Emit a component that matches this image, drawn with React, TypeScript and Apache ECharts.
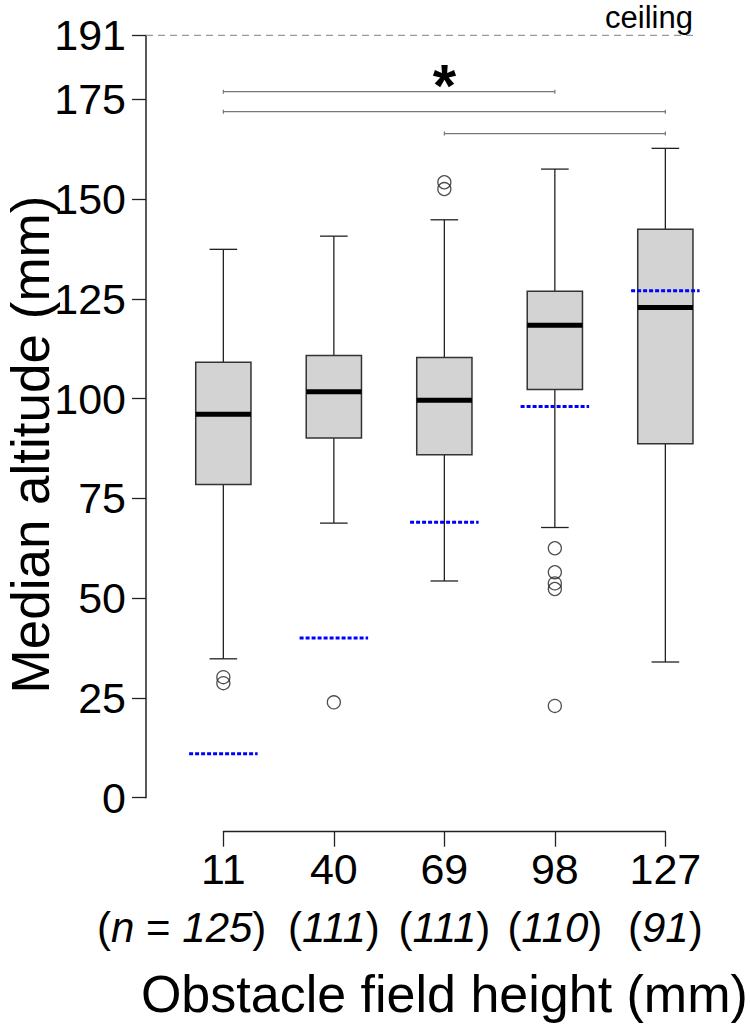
import React, { useEffect, useRef } from "react";
import * as echarts from "echarts";

// ---- data ----
const categories = ["11", "40", "69", "98", "127"];
const sampleSizes = ["125", "111", "111", "110", "91"];
const obstacleHeights = [11, 40, 69, 98, 127];
const whiskerLow = [34.8, 68.8, 54.3, 67.7, 34.0];
const quartile1 = [78.5, 90.1, 85.9, 102.3, 88.7];
const medians = [96.1, 101.7, 99.6, 118.4, 122.8];
const quartile3 = [109.1, 110.8, 110.3, 126.9, 142.4];
const whiskerHigh = [137.4, 140.7, 144.8, 157.5, 162.7];
const outliers: [number, number][] = [
  [0, 30.2], [0, 28.7],
  [1, 23.9],
  [2, 154.2], [2, 152.5],
  [3, 62.5], [3, 56.5], [3, 53.7], [3, 52.3], [3, 23.0],
];
const yTicks = [0, 25, 50, 75, 100, 125, 150, 175, 191];
const ceilingValue = 191;
const ceilingLabel = "ceiling";
const comparisons: [number, number, number][] = [
  [0, 3, 176.9],
  [0, 4, 171.9],
  [2, 4, 166.4],
];
const significanceMark: [number, number, string] = [2, 178.4, "*"];
const yTitle = "Median altitude (mm)";
const xTitle = "Obstacle field height (mm)";

const FONT = "'Liberation Sans', Arial, Helvetica, sans-serif";
const X_MIN = -0.7;
const X_MAX = 4.5;
const CEILING_END = 4.25;

export default function App() {
  const ref = useRef<HTMLDivElement>(null);

  useEffect(() => {
    if (!ref.current) return;
    const chart = echarts.init(ref.current, undefined, { renderer: "svg" });

    const boxData = categories.map((_, i) => [
      i,
      whiskerLow[i],
      quartile1[i],
      medians[i],
      quartile3[i],
      whiskerHigh[i],
    ]);
    const heightData = obstacleHeights.map((h, i) => [i, h]);
    const sizeData = sampleSizes.map((_, i) => [i, 0]);

    const richSmall = {
      p: { fontSize: 42, color: "#000", fontFamily: FONT },
      i: { fontSize: 42, color: "#000", fontStyle: "italic", fontFamily: FONT },
    };

    const option: any = {
      animation: false,
      backgroundColor: "#ffffff",
      textStyle: { fontFamily: FONT },
      grid: [
        { left: 146, top: 35.4, width: 574.6, height: 762.3, containLabel: false, outerBoundsMode: "none" },
        { left: 223.35, top: 830.7, width: 442, height: 1, containLabel: false, outerBoundsMode: "none" },
      ],
      xAxis: [
        {
          gridIndex: 0,
          type: "value",
          min: X_MIN,
          max: X_MAX,
          show: false,
          axisLine: { onZero: false },
        },
        {
          gridIndex: 1,
          type: "value",
          min: 0,
          max: categories.length - 1,
          interval: 1,
          position: "bottom",
          splitLine: { show: false },
          axisLine: { show: true, onZero: false, lineStyle: { color: "#222", width: 1.3 } },
          axisTick: { show: true, inside: false, length: 15, lineStyle: { color: "#222", width: 1.3 } },
          axisLabel: {
            show: true,
            margin: 9,
            hideOverlap: false,
            showMinLabel: true,
            showMaxLabel: true,
            fontSize: 43,
            lineHeight: 56,
            color: "#000",
            fontFamily: FONT,
            formatter: (v: number) => categories[Math.round(v)],
          },
          name: xTitle,
          nameLocation: "middle",
          nameGap: 136,
          nameMoveOverlap: false,
          nameTextStyle: { fontSize: 52, color: "#000", fontFamily: FONT },
        },
      ],
      yAxis: [
        {
          gridIndex: 0,
          type: "value",
          min: 0,
          max: ceilingValue,
          splitLine: { show: false },
          axisLine: { show: true, onZero: false, lineStyle: { color: "#222", width: 1.5 } },
          axisTick: {
            show: true,
            inside: false,
            length: 14,
            customValues: yTicks,
            lineStyle: { color: "#222", width: 1.3 },
          },
          axisLabel: {
            show: true,
            customValues: yTicks,
            margin: 20,
            fontSize: 43,
            color: "#000",
            fontFamily: FONT,
          },
          name: yTitle,
          nameLocation: "middle",
          nameRotate: 90,
          nameGap: 88.7,
          nameMoveOverlap: false,
          nameTextStyle: { fontSize: 53, color: "#000", fontFamily: FONT, padding: [0, 56, 0, 0] },
        },
        { gridIndex: 1, type: "value", show: false, min: 0, max: 1, axisLine: { onZero: false } },
      ],
      series: [
        {
          type: "line",
          xAxisIndex: 0,
          yAxisIndex: 0,
          data: [
            [X_MIN, ceilingValue],
            [CEILING_END, ceilingValue],
          ],
          symbol: "none",
          clip: false,
          silent: true,
          lineStyle: { color: "#999", width: 1.3, type: [7, 5] },
          z: 1,
        },
        {
          type: "custom",
          xAxisIndex: 0,
          yAxisIndex: 0,
          data: [[CEILING_END, ceilingValue]],
          silent: true,
          renderItem: (_p: any, api: any) => {
            const p = api.coord([api.value(0), api.value(1)]);
            return {
              type: "text",
              x: p[0],
              y: p[1] - 17.6,
              style: {
                text: ceilingLabel,
                fontSize: 31,
                fontFamily: FONT,
                fill: "#000",
                align: "right",
                verticalAlign: "middle",
              },
            };
          },
        },
        {
          type: "custom",
          xAxisIndex: 1,
          yAxisIndex: 1,
          data: sizeData,
          silent: true,
          renderItem: (_p: any, api: any) => {
            const i = Math.round(api.value(0));
            const p = api.coord([i, api.value(1)]);
            const n = sampleSizes[i];
            const first = i === 0;
            return {
              type: "text",
              x: first ? p[0] + 43 : p[0],
              y: p[1] + 95.5,
              style: {
                text: first ? `{p|(}{i|n}{p| = }{i|${n}}{p|)}` : `{p|(}{i|${n}}{p|)}`,
                rich: richSmall,
                fontSize: 42,
                fontFamily: FONT,
                fill: "#000",
                align: first ? "right" : "center",
                verticalAlign: "middle",
              },
            };
          },
        },
        {
          type: "custom",
          xAxisIndex: 0,
          yAxisIndex: 0,
          data: boxData,
          encode: { x: 0, y: [1, 2, 3, 4, 5] },
          silent: true,
          z: 3,
          renderItem: (_p: any, api: any) => {
            const i = api.value(0);
            const lo = api.coord([i, api.value(1)]);
            const b1 = api.coord([i, api.value(2)]);
            const md = api.coord([i, api.value(3)]);
            const b3 = api.coord([i, api.value(4)]);
            const hi = api.coord([i, api.value(5)]);
            const hw = api.size([0.25, 0])[0];
            const cw = api.size([0.125, 0])[0];
            const cx = lo[0];
            const ls = { stroke: "#222", lineWidth: 1.3 };
            return {
              type: "group",
              children: [
                { type: "line", shape: { x1: cx, y1: b3[1], x2: cx, y2: hi[1] }, style: ls },
                { type: "line", shape: { x1: cx, y1: lo[1], x2: cx, y2: b1[1] }, style: ls },
                { type: "line", shape: { x1: cx - cw, y1: hi[1], x2: cx + cw, y2: hi[1] }, style: ls },
                { type: "line", shape: { x1: cx - cw, y1: lo[1], x2: cx + cw, y2: lo[1] }, style: ls },
                {
                  type: "rect",
                  shape: { x: cx - hw, y: b3[1], width: 2 * hw, height: b1[1] - b3[1] },
                  style: { fill: "#d3d3d3", stroke: "#333", lineWidth: 1.5 },
                },
                {
                  type: "line",
                  shape: { x1: cx - hw, y1: md[1], x2: cx + hw, y2: md[1] },
                  style: { stroke: "#000", lineWidth: 5 },
                },
              ],
            };
          },
        },
        {
          type: "custom",
          xAxisIndex: 0,
          yAxisIndex: 0,
          data: heightData,
          encode: { x: 0, y: 1 },
          silent: true,
          z: 4,
          renderItem: (_p: any, api: any) => {
            const i = api.value(0);
            const a = api.coord([i - 0.31, api.value(1)]);
            const b = api.coord([i + 0.31, api.value(1)]);
            return {
              type: "line",
              shape: { x1: a[0], y1: a[1], x2: b[0], y2: b[1] },
              style: { stroke: "#0000ff", lineWidth: 3, lineDash: [4, 2] },
            };
          },
        },
        {
          type: "scatter",
          xAxisIndex: 0,
          yAxisIndex: 0,
          data: outliers,
          symbol: "circle",
          symbolSize: 13,
          silent: true,
          z: 4,
          itemStyle: { color: "rgba(0,0,0,0)", borderColor: "#222", borderWidth: 1.3 },
        },
        {
          type: "custom",
          xAxisIndex: 0,
          yAxisIndex: 0,
          data: comparisons,
          encode: { x: [0, 1], y: 2 },
          silent: true,
          z: 4,
          renderItem: (_p: any, api: any) => {
            const p1 = api.coord([api.value(0), api.value(2)]);
            const p2 = api.coord([api.value(1), api.value(2)]);
            const st = { stroke: "#777", lineWidth: 1.2 };
            return {
              type: "group",
              children: [
                { type: "line", shape: { x1: p1[0], y1: p1[1], x2: p2[0], y2: p2[1] }, style: st },
                { type: "line", shape: { x1: p1[0], y1: p1[1] - 2, x2: p1[0], y2: p1[1] + 2 }, style: st },
                { type: "line", shape: { x1: p2[0], y1: p2[1] - 2, x2: p2[0], y2: p2[1] + 2 }, style: st },
              ],
            };
          },
        },
        {
          type: "custom",
          xAxisIndex: 0,
          yAxisIndex: 0,
          data: [[significanceMark[0], significanceMark[1]]],
          silent: true,
          z: 5,
          renderItem: (_p: any, api: any) => {
            const p = api.coord([api.value(0), api.value(1)]);
            return {
              type: "text",
              x: p[0],
              y: p[1],
              style: {
                text: significanceMark[2],
                fontSize: 60,
                fontWeight: "bold",
                fontFamily: FONT,
                fill: "#000",
                align: "center",
                verticalAlign: "middle",
              },
            };
          },
        },
      ],
    };

    chart.setOption(option);
    return () => chart.dispose();
  }, []);

  return (
    <div
      ref={ref}
      style={{ position: "fixed", left: 0, top: 0, width: 750, height: 1026, background: "#fff" }}
    />
  );
}
